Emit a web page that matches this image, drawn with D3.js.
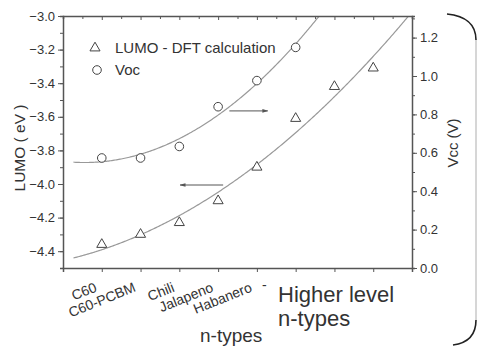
<!DOCTYPE html>
<html lang="en">
    <head>
        <meta charset="utf-8">
        <title>LUMO and Voc of n-types</title>
        <script type="text/javascript" src="https://d3js.org/d3.v7.min.js"></script>
        <style type="text/css">
            body { margin: 0; background: white; }
            svg text {
                font-family: "Liberation Sans", "Arial", sans-serif;
                fill: #333;
            }
            .axis path, .axis line { stroke: #555; }
            .axis text { font-size: 13px; fill: #333; }
        </style>
    </head>
    <body>
        <script type="text/javascript">

            const width = 479;
            const height = 347;

            // data
            const positions = [1, 2, 3, 4, 5, 6, 7, 8];
            const tickNames = ["C60", "C60-PCBM", "Chili", "Jalapeno", "Habanero"];
            const lumo = [-4.36, -4.30, -4.23, -4.10, -3.90, -3.61, -3.42, -3.31];
            const voc = [0.573, 0.573, 0.633, 0.84, 0.976, 1.149];
            const leftTicks = [-4.4, -4.2, -4.0, -3.8, -3.6, -3.4, -3.2, -3.0];
            const rightTicks = [0.0, 0.2, 0.4, 0.6, 0.8, 1.0, 1.2];

            const plot = {left: 63, right: 412, top: 16, bottom: 268};

            const xScale = d3.scaleLinear().domain([0, 9]).range([plot.left, plot.right]);
            const yLeft = d3.scaleLinear().domain([-4.5, -3.0]).range([plot.bottom, plot.top]);
            const yRight = d3.scaleLinear().domain([0, 1.3125]).range([plot.bottom, plot.top]);

            // quadratic least squares, like the fit in the original figure
            function polyfit2(xs, ys) {
                let s = [0, 0, 0, 0, 0], t = [0, 0, 0];
                xs.forEach((x, i) => {
                    for (let k = 0; k < 5; k++) s[k] += Math.pow(x, k);
                    for (let k = 0; k < 3; k++) t[k] += ys[i] * Math.pow(x, k);
                });
                const m = [[s[0], s[1], s[2], t[0]], [s[1], s[2], s[3], t[1]], [s[2], s[3], s[4], t[2]]];
                for (let c = 0; c < 3; c++) {
                    for (let r = c + 1; r < 3; r++) {
                        const f = m[r][c] / m[c][c];
                        for (let k = c; k < 4; k++) m[r][k] -= f * m[c][k];
                    }
                }
                const b = [0, 0, 0];
                for (let r = 2; r >= 0; r--) {
                    let v = m[r][3];
                    for (let k = r + 1; k < 3; k++) v -= m[r][k] * b[k];
                    b[r] = v / m[r][r];
                }
                return x => b[0] + b[1] * x + b[2] * x * x;
            }

            const lumoFit = polyfit2(positions, lumo);
            const vocFit = polyfit2(positions.slice(0, voc.length), voc);
            const curveX = d3.range(0.27, 9.001, 0.03);

            const svg = d3.select("body")
                .append("svg")
                .attr("width", width)
                .attr("height", height);

            svg.append("defs").append("clipPath").attr("id", "plotclip")
                .append("rect")
                .attr("x", plot.left).attr("y", plot.top)
                .attr("width", plot.right - plot.left).attr("height", plot.bottom - plot.top);

            svg.select("defs").append("marker")
                .attr("id", "head")
                .attr("viewBox", "0 0 10 10")
                .attr("refX", 9).attr("refY", 5)
                .attr("markerWidth", 6).attr("markerHeight", 6)
                .attr("orient", "auto")
                .append("path")
                .attr("d", "M0,2 L10,5 L0,8 Z")
                .attr("fill", "#555");

            // fit curves
            const g = svg.append("g").attr("clip-path", "url(#plotclip)");
            g.append("path")
                .datum(curveX)
                .attr("d", d3.line().x(d => xScale(d)).y(d => yLeft(lumoFit(d))))
                .attr("fill", "none").attr("stroke", "#999").attr("stroke-width", 1.2);
            g.append("path")
                .datum(curveX)
                .attr("d", d3.line().x(d => xScale(d)).y(d => yRight(vocFit(d))))
                .attr("fill", "none").attr("stroke", "#999").attr("stroke-width", 1.2);

            // markers
            const tri = d3.symbol().type(d3.symbolTriangle).size(44);
            svg.selectAll(".lumo")
                .data(lumo)
                .enter()
                .append("path")
                .attr("class", "lumo")
                .attr("transform", (d, i) => "translate(" + xScale(positions[i]) + "," + yLeft(d) + ")")
                .attr("d", tri)
                .attr("fill", "white").attr("stroke", "#444").attr("stroke-width", 1);

            svg.selectAll(".voc")
                .data(voc)
                .enter()
                .append("circle")
                .attr("class", "voc")
                .attr("cx", (d, i) => xScale(positions[i]))
                .attr("cy", d => yRight(d))
                .attr("r", 4.3)
                .attr("fill", "white").attr("stroke", "#444").attr("stroke-width", 1);

            // axes
            svg.append("g")
                .attr("class", "axis")
                .attr("transform", "translate(" + plot.left + ",0)")
                .call(d3.axisLeft(yLeft).tickValues(d3.range(-4.5, -2.95, 0.1)).tickSize(3).tickFormat(""));
            svg.append("g")
                .attr("class", "axis")
                .attr("transform", "translate(" + plot.left + ",0)")
                .call(d3.axisLeft(yLeft).tickValues(leftTicks).tickSize(5).tickPadding(3).tickFormat(d3.format(".1f")))
                .call(a => a.select(".domain").remove());

            svg.append("g")
                .attr("class", "axis")
                .attr("transform", "translate(" + plot.right + ",0)")
                .call(d3.axisRight(yRight).tickValues(d3.range(0, 1.31, 0.1)).tickSize(3).tickFormat(""));
            svg.append("g")
                .attr("class", "axis")
                .attr("transform", "translate(" + plot.right + ",0)")
                .call(d3.axisRight(yRight).tickValues(rightTicks).tickSize(5).tickPadding(3).tickFormat(d3.format(".1f")))
                .call(a => a.select(".domain").remove());

            svg.append("g")
                .attr("class", "axis")
                .attr("transform", "translate(0," + plot.bottom + ")")
                .call(d3.axisBottom(xScale).tickValues(positions).tickSize(4).tickFormat(""));

            svg.append("g")
                .attr("class", "axis")
                .attr("transform", "translate(0," + plot.top + ")")
                .call(d3.axisBottom(xScale).tickValues(d3.range(0.5, 9, 0.5)).tickSize(3).tickFormat(""))
                .call(a => a.selectAll(".tick line").attr("y2", d => Number.isInteger(d) ? 4 : 3));

            svg.selectAll(".axis .domain").attr("stroke-width", 1.5);

            // rotated category labels
            svg.selectAll(".cat")
                .data(tickNames)
                .enter()
                .append("text")
                .attr("class", "cat")
                .attr("text-anchor", "end")
                .attr("font-size", "14px")
                .attr("transform", (d, i) => "translate(" + (xScale(positions[i]) - 4) + ",291) rotate(-22)")
                .text(d => d);

            svg.append("text").attr("x", 262).attr("y", 290).attr("font-size", "14px").text("-");

            svg.append("text").attr("x", 278).attr("y", 302).attr("font-size", "22px").text("Higher level");
            svg.append("text").attr("x", 278).attr("y", 326).attr("font-size", "22px").text("n-types");
            svg.append("text").attr("x", 200).attr("y", 342).attr("font-size", "19px").text("n-types");

            // axis titles
            svg.append("text")
                .attr("text-anchor", "middle")
                .attr("font-size", "15.5px")
                .attr("transform", "translate(25,148) rotate(-90)")
                .text("LUMO ( eV )");
            svg.append("text")
                .attr("text-anchor", "middle")
                .attr("font-size", "15px")
                .attr("transform", "translate(458,143) rotate(-90)")
                .text("Vcc (V)");

            // legend
            svg.append("path")
                .attr("transform", "translate(95,48)")
                .attr("d", tri)
                .attr("fill", "white").attr("stroke", "#444");
            svg.append("text").attr("x", 115).attr("y", 53).attr("font-size", "15px").text("LUMO - DFT calculation");
            svg.append("circle")
                .attr("cx", 97).attr("cy", 70).attr("r", 4.3)
                .attr("fill", "white").attr("stroke", "#444");
            svg.append("text").attr("x", 115).attr("y", 75).attr("font-size", "15px").text("Voc");

            // arrows pointing to each curve's axis
            svg.append("line")
                .attr("x1", xScale(4.29)).attr("x2", xScale(5.28))
                .attr("y1", yLeft(-3.565)).attr("y2", yLeft(-3.565))
                .attr("stroke", "#555").attr("marker-end", "url(#head)");
            svg.append("line")
                .attr("x1", xScale(4.13)).attr("x2", xScale(3.02))
                .attr("y1", yLeft(-4.006)).attr("y2", yLeft(-4.006))
                .attr("stroke", "#555").attr("marker-end", "url(#head)");

            // big bracket at the right edge: dark ends, faint side
            svg.append("path")
                .attr("d", "M476,40 L476,320")
                .attr("fill", "none").attr("stroke", "#bbb").attr("stroke-width", 1.2);
            svg.append("path")
                .attr("d", "M447,14 Q476,17 476,40 M476,320 Q476,342 453,345")
                .attr("fill", "none").attr("stroke", "#222").attr("stroke-width", 1.6);

        </script>
    </body>
</html>
